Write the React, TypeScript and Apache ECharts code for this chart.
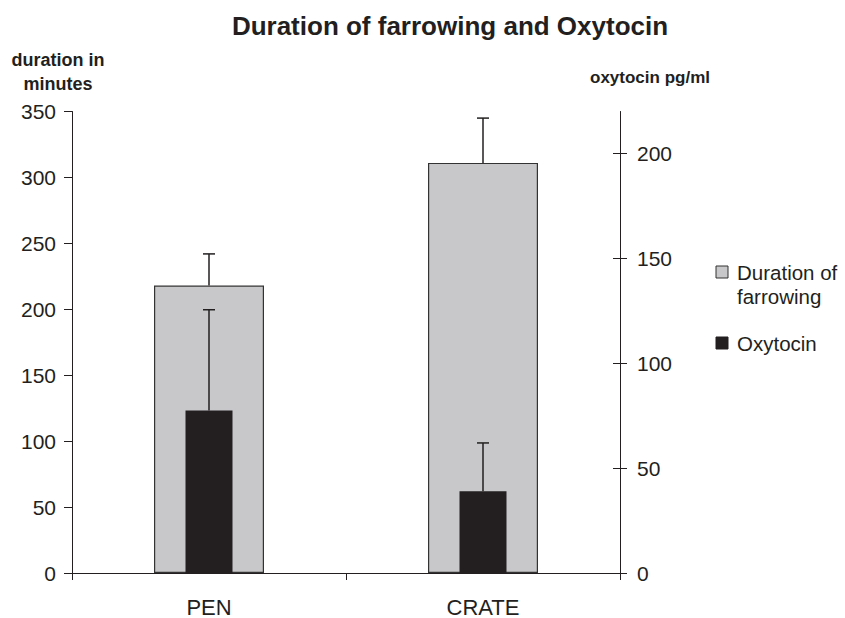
import React, { useEffect, useRef } from "react";
import * as echarts from "echarts";

const categories = ["PEN", "CRATE"];
const durationValues = [218, 311];
const durationErrTop = [242, 345];
const oxytocinValues = [77.5, 39];
const oxytocinErrTop = [125.5, 62];
const leftTicks = { min: 0, max: 350, interval: 50 };
const rightTicks = { min: 0, max: 220, interval: 50 };
const rightTickValues = [0, 50, 100, 150, 200];

const FONT = "'Liberation Sans', Arial, sans-serif";
const GRAY = "#c8c8ca";
const BLACK = "#231f20";
const EDGE = "#333333";

function errorRender(params: any, api: any) {
  const x = api.value(0);
  const base = api.coord([x, api.value(1)]);
  const top = api.coord([x, api.value(2)]);
  const half = 6;
  return {
    type: "group",
    children: [
      {
        type: "line",
        shape: { x1: base[0], y1: base[1], x2: top[0], y2: top[1] },
        style: { stroke: BLACK, lineWidth: 1.5 },
      },
      {
        type: "line",
        shape: { x1: top[0] - half, y1: top[1], x2: top[0] + half, y2: top[1] },
        style: { stroke: BLACK, lineWidth: 1.5 },
      },
    ],
  };
}

export default function App() {
  const ref = useRef<HTMLDivElement>(null);
  useEffect(() => {
    if (!ref.current) return;
    const chart = echarts.init(ref.current, undefined, { renderer: "svg" });
    const yLabelStyle = { color: BLACK, fontSize: 21, fontFamily: FONT };
    chart.setOption({
      animation: false,
      textStyle: { fontFamily: FONT },
      title: {
        text: "Duration of farrowing and Oxytocin",
        left: 445,
        textAlign: "center",
        top: 8,
        textStyle: { fontFamily: FONT, fontSize: 26, fontWeight: "bold", color: BLACK },
      },
      grid: { left: 72, right: 225, top: 111.5, bottom: 44.5, containLabel: false },
      xAxis: [
        {
          type: "category",
          data: categories,
          boundaryGap: true,
          axisLine: { lineStyle: { color: BLACK, width: 1 } },
          axisTick: { show: true, interval: 0, length: 7, lineStyle: { color: BLACK } },
          axisLabel: { color: BLACK, fontSize: 22, fontFamily: FONT, margin: 23 },
        },
        {
          type: "category",
          data: categories,
          show: false,
        },
      ],
      yAxis: [
        {
          type: "value",
          position: "left",
          min: leftTicks.min,
          max: leftTicks.max,
          interval: leftTicks.interval,
          name: "duration in\nminutes",
          nameLocation: "end",
          nameGap: 0,
          nameTextStyle: {
            fontFamily: FONT,
            fontSize: 18,
            fontWeight: "bold",
            color: BLACK,
            align: "center",
            verticalAlign: "bottom",
            lineHeight: 24,
            padding: [0, 0, 5, -28],
          },
          splitLine: { show: false },
          axisLine: { show: true, lineStyle: { color: BLACK, width: 1 } },
          axisTick: { show: true, length: 8, lineStyle: { color: BLACK } },
          axisLabel: { ...yLabelStyle, margin: 16 },
        },
        {
          type: "value",
          position: "right",
          min: rightTicks.min,
          max: rightTicks.max,
          interval: rightTicks.interval,
          name: "oxytocin pg/ml",
          nameLocation: "end",
          nameGap: 0,
          nameTextStyle: {
            fontFamily: FONT,
            fontSize: 17,
            fontWeight: "bold",
            color: BLACK,
            align: "center",
            verticalAlign: "bottom",
            padding: [0, 0, 26, 60],
          },
          splitLine: { show: false },
          axisLine: { show: true, lineStyle: { color: BLACK, width: 1 } },
          axisTick: { show: true, length: 7, lineStyle: { color: BLACK }, customValues: rightTickValues },
          axisLabel: { ...yLabelStyle, margin: 17, customValues: rightTickValues },
        },
        {
          type: "value",
          position: "right",
          min: rightTicks.min,
          max: rightTicks.max,
          interval: rightTicks.interval,
          splitLine: { show: false },
          axisLine: { show: false },
          axisTick: { show: true, inside: true, length: 7, lineStyle: { color: BLACK }, customValues: rightTickValues },
          axisLabel: { show: false },
        },
      ],
      series: [
        {
          name: "Duration of farrowing",
          type: "bar",
          xAxisIndex: 0,
          yAxisIndex: 0,
          barWidth: 110,
          data: durationValues,
          itemStyle: { color: GRAY, borderColor: EDGE, borderWidth: 1.2 },
          z: 2,
        },
        {
          name: "Oxytocin",
          type: "bar",
          xAxisIndex: 1,
          yAxisIndex: 1,
          barWidth: 47,
          data: oxytocinValues,
          itemStyle: { color: BLACK },
          z: 3,
        },
        {
          type: "custom",
          xAxisIndex: 0,
          yAxisIndex: 0,
          renderItem: errorRender,
          data: categories.map((c, i) => [i, durationValues[i], durationErrTop[i]]),
          z: 4,
        },
        {
          type: "custom",
          xAxisIndex: 1,
          yAxisIndex: 1,
          renderItem: errorRender,
          data: categories.map((c, i) => [i, oxytocinValues[i], oxytocinErrTop[i]]),
          z: 4,
        },
      ],
      graphic: [
        {
          type: "rect",
          shape: { x: 716, y: 266, width: 12, height: 12 },
          style: { fill: GRAY, stroke: EDGE, lineWidth: 1 },
        },
        {
          type: "text",
          x: 737,
          y: 272,
          style: {
            text: "Duration of",
            fontFamily: FONT,
            fontSize: 20.5,
            fill: BLACK,
            verticalAlign: "middle",
          },
        },
        {
          type: "text",
          x: 737,
          y: 296,
          style: {
            text: "farrowing",
            fontFamily: FONT,
            fontSize: 20.5,
            fill: BLACK,
            verticalAlign: "middle",
          },
        },
        {
          type: "rect",
          shape: { x: 716, y: 337, width: 12, height: 12 },
          style: { fill: BLACK, stroke: BLACK, lineWidth: 1 },
        },
        {
          type: "text",
          x: 737,
          y: 343,
          style: {
            text: "Oxytocin",
            fontFamily: FONT,
            fontSize: 20.5,
            fill: BLACK,
            verticalAlign: "middle",
          },
        },
      ],
    });
    return () => chart.dispose();
  }, []);
  return <div ref={ref} style={{ width: 845, height: 618, position: "absolute", left: 0, top: 0 }} />;
}
